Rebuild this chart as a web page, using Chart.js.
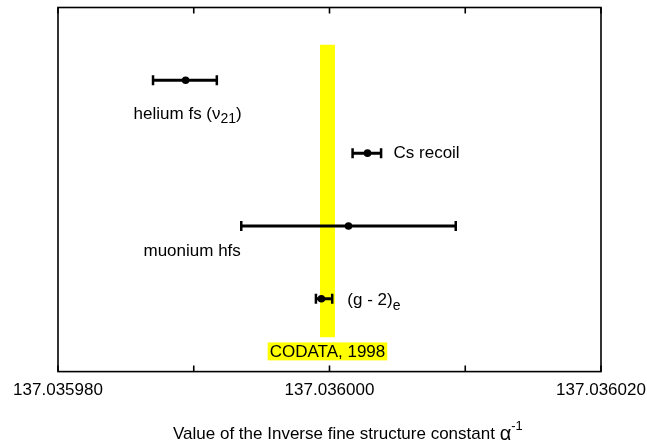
<!DOCTYPE html>
<html>
<head>
<meta charset="utf-8">
<script src="https://cdn.jsdelivr.net/npm/chart.js@4.4.0/dist/chart.umd.min.js"></script>
<style>
body { margin: 0; background: #fff; }
</style>
</head>
<body>
<canvas id="graficaAlfa" width="647" height="446"></canvas>
<script>
var experiments = ['helium fs', 'Cs recoil', 'muonium hfs', '(g - 2)e'];
var rows = [1, 2, 3, 4];
var centers = [137.0359894, 137.0360028, 137.0360014, 137.0359994];
var lows = [137.0359870, 137.0360017, 137.0359935, 137.0359990];
var highs = [137.0359917, 137.0360038, 137.0360093, 137.0360002];
var codataBand = [137.0359993, 137.0360004];
var codataRows = [0.51, 4.53];
var tickValues = [137.035980, 137.035990, 137.036000, 137.036010, 137.036020];
var tickLabels = ['137.035980', '', '137.036000', '', '137.036020'];

var FONT = '"Liberation Sans", Arial, sans-serif';

// texto con subindices: [texto, 'sub'|'sup'|'big'|'']
var etiquetas = [
    {parts: [['helium fs (\u03bd', ''], ['21', 'sub'], [')', '']], dx: -52, dy: 34},
    {parts: [['Cs recoil', '']], dx: 26, dy: 0},
    {parts: [['muonium hfs', '']], dx: -205, dy: 25},
    {parts: [['(g - 2)', ''], ['e', 'sub']], dx: 26, dy: 2}
];

function drawParts(ctx, parts, x, y) {
    parts.forEach(function(p) {
        var dy = 0;
        if (p[1] === 'sub') { ctx.font = '14px ' + FONT; dy = 5; }
        else if (p[1] === 'sup') { ctx.font = '13px ' + FONT; dy = -8; }
        else if (p[1] === 'big') { ctx.font = '20px ' + FONT; }
        else { ctx.font = '17px ' + FONT; }
        ctx.fillText(p[0], x, y + dy);
        x += ctx.measureText(p[0]).width;
    });
}

var decorado = {
    id: 'decorado',
    afterDraw: function(chart) {
        var ctx = chart.ctx;
        var a = chart.chartArea;
        var xs = chart.scales.x, ys = chart.scales.y;
        ctx.save();
        ctx.strokeStyle = '#000';
        ctx.lineWidth = 1.6;
        ctx.strokeRect(a.left, a.top, a.right - a.left, a.bottom - a.top);
        // marcas hacia dentro
        tickValues.forEach(function(v) {
            var px = xs.getPixelForValue(v);
            ctx.beginPath();
            ctx.moveTo(px, a.bottom); ctx.lineTo(px, a.bottom - 6);
            ctx.moveTo(px, a.top); ctx.lineTo(px, a.top + 6);
            ctx.stroke();
        });
        ctx.fillStyle = '#000';
        ctx.textBaseline = 'middle';
        ctx.textAlign = 'left';
        etiquetas.forEach(function(e, i) {
            var px = xs.getPixelForValue(centers[i]);
            var py = ys.getPixelForValue(rows[i]);
            drawParts(ctx, e.parts, px + e.dx, py + e.dy);
        });
        // CODATA
        ctx.font = '17px ' + FONT;
        var txt = 'CODATA, 1998';
        var w = ctx.measureText(txt).width;
        var cx = xs.getPixelForValue((codataBand[0] + codataBand[1]) / 2);
        var cy = ys.getPixelForValue(codataRows[1]) + 14;
        ctx.fillStyle = '#ffff00';
        ctx.fillRect(cx - w / 2 - 2, cy - 9, w + 4, 18);
        ctx.fillStyle = '#000';
        ctx.fillText(txt, cx - w / 2, cy + 1);
        // titulo del eje
        drawParts(ctx, [['Value of the Inverse fine structure constant ', ''], ['\u03b1', 'big'], ['-1', 'sup']], 173, 434);
        ctx.restore();
    }
};

var datasets = [];
for (var i = 0; i < rows.length; i++) {
    datasets.push({
        label: experiments[i],
        data: [{x: lows[i], y: rows[i]}, {x: highs[i], y: rows[i]}],
        showLine: true,
        borderColor: '#000',
        borderWidth: 3,
        pointStyle: 'line',
        rotation: 90,
        pointRadius: 5,
        pointBorderWidth: 2.5,
        pointBorderColor: '#000',
        order: 2
    });
}
datasets.unshift({
    label: 'centros',
    data: centers.map(function(c, i) { return {x: c, y: rows[i]}; }),
    pointRadius: 3.8,
    pointBackgroundColor: '#000',
    pointBorderColor: '#000',
    pointBorderWidth: 0,
    order: 1
});
datasets.push({
    label: 'CODATA',
    data: [
        {x: codataBand[0], y: codataRows[0]},
        {x: codataBand[1], y: codataRows[0]},
        {x: codataBand[1], y: codataRows[1]},
        {x: codataBand[0], y: codataRows[1]},
        {x: codataBand[0], y: codataRows[0]}
    ],
    showLine: true,
    fill: 'shape',
    backgroundColor: '#ffff00',
    borderColor: '#ffff00',
    borderWidth: 0,
    pointRadius: 0,
    tension: 0,
    order: 10
});

document.addEventListener("DOMContentLoaded", function() {
    var ctx = document.getElementById("graficaAlfa").getContext("2d");
    new Chart(ctx, {
        type: 'scatter',
        data: {datasets: datasets},
        plugins: [decorado],
        options: {
            responsive: false,
            animation: false,
            layout: {padding: {left: 58, right: 46, top: 7, bottom: 44}},
            plugins: {legend: {display: false}, tooltip: {enabled: false}},
            scales: {
                x: {
                    type: 'linear',
                    min: tickValues[0],
                    max: tickValues[tickValues.length - 1],
                    afterBuildTicks: function(scale) {
                        scale.ticks = tickValues.map(function(v) { return {value: v}; });
                    },
                    grid: {display: true, drawOnChartArea: false, drawTicks: true, tickLength: 8, color: 'rgba(0,0,0,0)'},
                    border: {display: false},
                    ticks: {
                        autoSkip: false,
                        maxRotation: 0,
                        padding: 1,
                        color: '#000',
                        font: {family: FONT, size: 17},
                        callback: function(value, index) { return tickLabels[index]; }
                    }
                },
                y: {
                    type: 'linear',
                    display: false,
                    min: 0,
                    max: 5,
                    reverse: true
                }
            }
        }
    });
});
</script>
</body>
</html>
